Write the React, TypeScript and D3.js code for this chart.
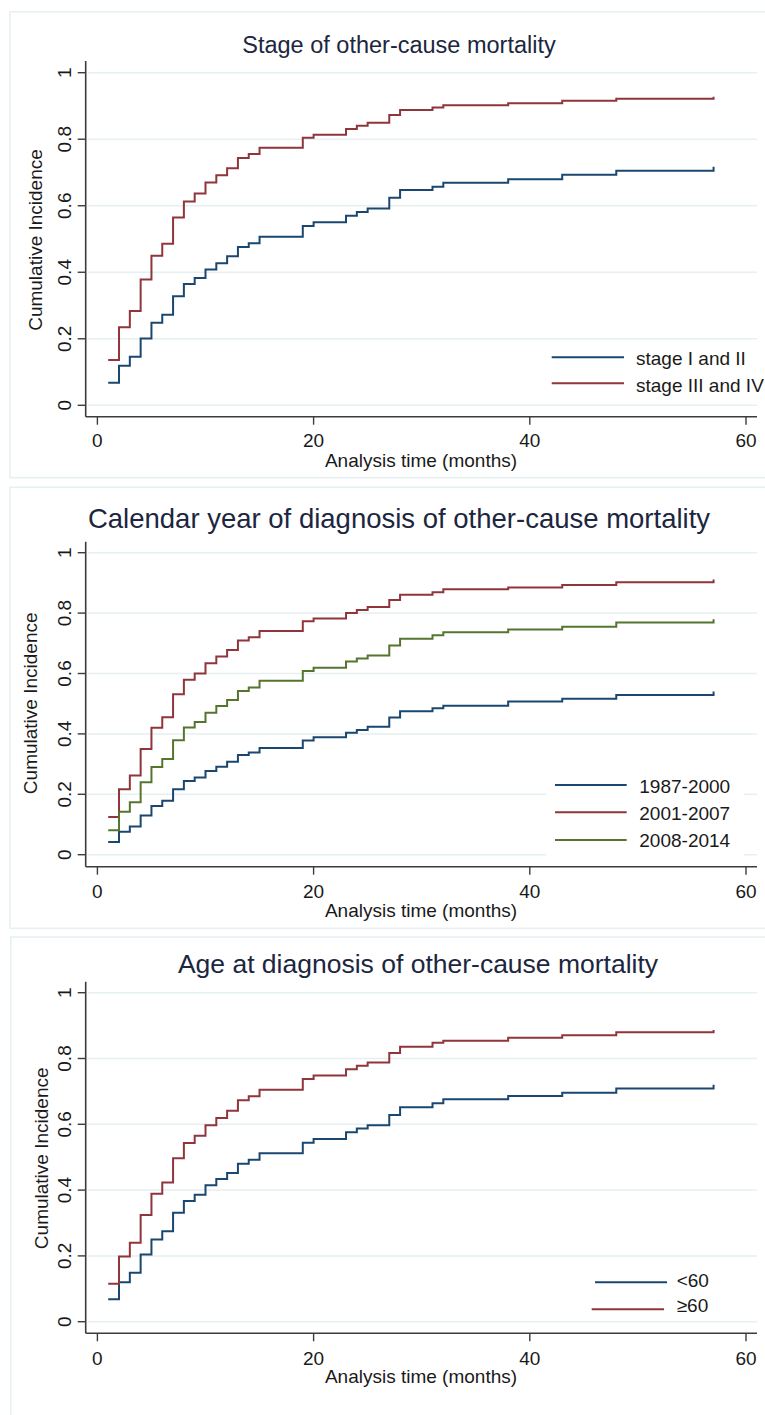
import React from "react";
import * as d3 from "d3";

// ---------- DATA ----------
const months = [1, 2, 3, 4, 5, 6, 7, 8, 9, 10, 11, 12, 13, 14, 15, 19, 20, 23, 24, 25, 27, 28, 31, 32, 38, 43, 48, 57];
const xTicks = [0, 20, 40, 60];
const yTicks = [0, 0.2, 0.4, 0.6, 0.8, 1];
const yTickLabels = ["0", "0.2", "0.4", "0.6", "0.8", "1"];

const stageEarly = [0.068, 0.119, 0.146, 0.201, 0.248, 0.272, 0.328, 0.365, 0.383, 0.408, 0.427, 0.448, 0.476, 0.487, 0.507, 0.539, 0.55, 0.57, 0.581, 0.592, 0.624, 0.647, 0.657, 0.669, 0.68, 0.693, 0.705, 0.717];
const stageLate = [0.136, 0.2345, 0.2835, 0.378, 0.45, 0.486, 0.565, 0.613, 0.637, 0.67, 0.692, 0.7125, 0.7435, 0.7555, 0.7746, 0.8047, 0.8137, 0.831, 0.8407, 0.8497, 0.873, 0.888, 0.895, 0.902, 0.908, 0.916, 0.922, 0.928];

const year1987 = [0.042, 0.076, 0.093, 0.13, 0.161, 0.179, 0.217, 0.244, 0.256, 0.277, 0.291, 0.308, 0.33, 0.338, 0.353, 0.378, 0.389, 0.404, 0.413, 0.424, 0.454, 0.475, 0.485, 0.493, 0.507, 0.516, 0.529, 0.54];
const year2001 = [0.125, 0.217, 0.262, 0.35, 0.42, 0.455, 0.531, 0.579, 0.6, 0.634, 0.656, 0.678, 0.709, 0.72, 0.741, 0.773, 0.782, 0.8, 0.81, 0.82, 0.843, 0.861, 0.869, 0.879, 0.885, 0.893, 0.902, 0.911];
const year2008 = [0.081, 0.142, 0.174, 0.24, 0.29, 0.317, 0.379, 0.421, 0.439, 0.47, 0.492, 0.512, 0.542, 0.554, 0.576, 0.608, 0.619, 0.64, 0.65, 0.66, 0.693, 0.715, 0.727, 0.737, 0.746, 0.755, 0.769, 0.78];

const ageUnder60 = [0.068, 0.12, 0.149, 0.204, 0.25, 0.275, 0.331, 0.367, 0.386, 0.415, 0.434, 0.452, 0.48, 0.492, 0.512, 0.544, 0.555, 0.576, 0.587, 0.597, 0.628, 0.652, 0.664, 0.676, 0.686, 0.696, 0.709, 0.72];
const age60plus = [0.115, 0.198, 0.24, 0.324, 0.389, 0.423, 0.497, 0.543, 0.565, 0.597, 0.619, 0.641, 0.673, 0.685, 0.705, 0.738, 0.748, 0.767, 0.778, 0.788, 0.817, 0.836, 0.848, 0.854, 0.863, 0.871, 0.88, 0.887];

const titles = [
  "Stage of other-cause mortality",
  "Calendar year of diagnosis of other-cause mortality",
  "Age at diagnosis of other-cause mortality",
];
const stageLabels = ["stage I and II", "stage III and IV"];
const yearLabels = ["1987-2000", "2001-2007", "2008-2014"];
const ageLabels = ["<60", "\u226560"];
const xTitle = "Analysis time (months)";
const yTitle = "Cumulative Incidence";

// ---------- STYLE ----------
const NAVY = "#1a476f";
const MAROON = "#90353b";
const GREEN = "#55752f";
const GRID = "#e6eff2";
const AXIS = "#3c3c3c";
const FONT = "'Liberation Sans', Arial, Helvetica, sans-serif";

type Series = { values: number[]; color: string; label: string; ly: number; lx0: number; lx1: number; tb: number };

type PanelCfg = {
  title: string;
  titleSize: number;
  titleX: number;
  titleBase: number;
  frame: [number, number, number, number];
  y0: number;
  y1: number;
  axisTop: number;
  axisY: number;
  tickBase: number;
  xTitleBase: number;
  yTitleX: number;
  yTitleC: number;
  legendX: number;
  legendBox?: [number, number, number, number];
  series: Series[];
};

const xRange: [number, number] = [97.4, 746];

const panels: PanelCfg[] = [
  {
    title: titles[0], titleSize: 23.5, titleX: 399, titleBase: 53.3,
    frame: [10, 11.7, 800, 466],
    y0: 405.3, y1: 72.7, axisTop: 61, axisY: 416.7, tickBase: 447.3, xTitleBase: 467,
    yTitleX: 41.7, yTitleC: 240, legendX: 636,
    series: [
      { values: stageEarly, color: NAVY, label: stageLabels[0], ly: 357.3, lx0: 551.7, lx1: 624, tb: 365 },
      { values: stageLate, color: MAROON, label: stageLabels[1], ly: 383.3, lx0: 551.7, lx1: 624, tb: 391.7 },
    ],
  },
  {
    title: titles[1], titleSize: 27.5, titleX: 399, titleBase: 528.3,
    frame: [10, 487.3, 800, 441],
    y0: 854.7, y1: 552.7, axisTop: 541.7, axisY: 866.7, tickBase: 898.3, xTitleBase: 917,
    yTitleX: 36.7, yTitleC: 703.3, legendX: 639.3, legendBox: [546, 771, 198, 89],
    series: [
      { values: year1987, color: NAVY, label: yearLabels[0], ly: 785, lx0: 555, lx1: 626.7, tb: 792.7 },
      { values: year2001, color: MAROON, label: yearLabels[1], ly: 812.3, lx0: 555, lx1: 626.7, tb: 820 },
      { values: year2008, color: GREEN, label: yearLabels[2], ly: 840, lx0: 555, lx1: 626.7, tb: 847.3 },
    ],
  },
  {
    title: titles[2], titleSize: 26.5, titleX: 418, titleBase: 973.3,
    frame: [10.7, 937, 800, 500],
    y0: 1321.7, y1: 992.7, axisTop: 981.7, axisY: 1333.3, tickBase: 1365, xTitleBase: 1383,
    yTitleX: 48.3, yTitleC: 1158.3, legendX: 676.7,
    series: [
      { values: ageUnder60, color: NAVY, label: ageLabels[0], ly: 1282.3, lx0: 595, lx1: 667, tb: 1287.3 },
      { values: age60plus, color: MAROON, label: ageLabels[1], ly: 1309.3, lx0: 591.7, lx1: 664, tb: 1311.7 },
    ],
  },
];

function Panel({ cfg }: { cfg: PanelCfg }) {
  const x = d3.scaleLinear().domain([0, 60]).range(xRange);
  const y = d3.scaleLinear().domain([0, 1]).range([cfg.y0, cfg.y1]);
  const axisLeft = 85.7;
  const axisRight = 757;
  const line = d3
    .line<[number, number]>()
    .x((d) => x(d[0]))
    .y((d) => y(d[1]))
    .curve(d3.curveStepAfter);
  const [fx, fy, fw, fh] = cfg.frame;
  return (
    <g>
      <rect x={fx} y={fy} width={fw} height={fh} fill="#ffffff" stroke={GRID} strokeWidth={1.5} />
      {/* gridlines */}
      {yTicks.map((t) => (
        <line key={"g" + t} x1={axisLeft + 2} x2={axisRight} y1={y(t)} y2={y(t)} stroke={GRID} strokeWidth={1.5} />
      ))}
      {cfg.legendBox && (
        <rect x={cfg.legendBox[0]} y={cfg.legendBox[1]} width={cfg.legendBox[2]} height={cfg.legendBox[3]} fill="#ffffff" />
      )}
      {/* axes */}
      <line x1={axisLeft} x2={axisLeft} y1={cfg.axisTop} y2={cfg.axisY} stroke={AXIS} strokeWidth={1.6} />
      <line x1={axisLeft} x2={axisRight} y1={cfg.axisY} y2={cfg.axisY} stroke={AXIS} strokeWidth={1.6} />
      {yTicks.map((t, i) => (
        <g key={"yt" + t}>
          <line x1={axisLeft - 8} x2={axisLeft} y1={y(t)} y2={y(t)} stroke={AXIS} strokeWidth={1.4} />
          <text
            transform={`translate(70.7,${y(t)}) rotate(-90)`}
            textAnchor="middle"
            fontFamily={FONT}
            fontSize={19}
            fill="#1a1a1a"
          >
            {yTickLabels[i]}
          </text>
        </g>
      ))}
      {xTicks.map((t) => (
        <g key={"xt" + t}>
          <line x1={x(t)} x2={x(t)} y1={cfg.axisY} y2={cfg.axisY + 8} stroke={AXIS} strokeWidth={1.4} />
          <text x={x(t)} y={cfg.tickBase} textAnchor="middle" fontFamily={FONT} fontSize={19} fill="#1a1a1a">
            {String(t)}
          </text>
        </g>
      ))}
      {/* titles */}
      <text x={cfg.titleX} y={cfg.titleBase} textAnchor="middle" fontFamily={FONT} fontSize={cfg.titleSize} fill="#1c2640">
        {cfg.title}
      </text>
      <text x={421} y={cfg.xTitleBase} textAnchor="middle" fontFamily={FONT} fontSize={19} fill="#1a1a1a">
        {xTitle}
      </text>
      <text
        transform={`translate(${cfg.yTitleX},${cfg.yTitleC}) rotate(-90)`}
        textAnchor="middle"
        fontFamily={FONT}
        fontSize={19}
        fill="#1a1a1a"
      >
        {yTitle}
      </text>
      {/* curves */}
      {cfg.series.map((s, i) => (
        <path
          key={"s" + i}
          d={line(months.map((m, k) => [m, s.values[k]] as [number, number])) || ""}
          fill="none"
          stroke={s.color}
          strokeWidth={2}
        />
      ))}
      {/* legend */}
      {cfg.series.map((s, i) => (
        <g key={"l" + i}>
          <line x1={s.lx0} x2={s.lx1} y1={s.ly} y2={s.ly} stroke={s.color} strokeWidth={2} />
          <text x={cfg.legendX} y={s.tb} fontFamily={FONT} fontSize={19} fill="#1a1a1a">
            {s.label}
          </text>
        </g>
      ))}
    </g>
  );
}

export default function App() {
  return (
    <svg
      width={765}
      height={1415}
      viewBox="0 0 765 1415"
      style={{ position: "absolute", left: 0, top: 0, background: "#ffffff" }}
    >
      <rect x={0} y={0} width={765} height={1415} fill="#ffffff" />
      {panels.map((p, i) => (
        <Panel key={i} cfg={p} />
      ))}
    </svg>
  );
}
